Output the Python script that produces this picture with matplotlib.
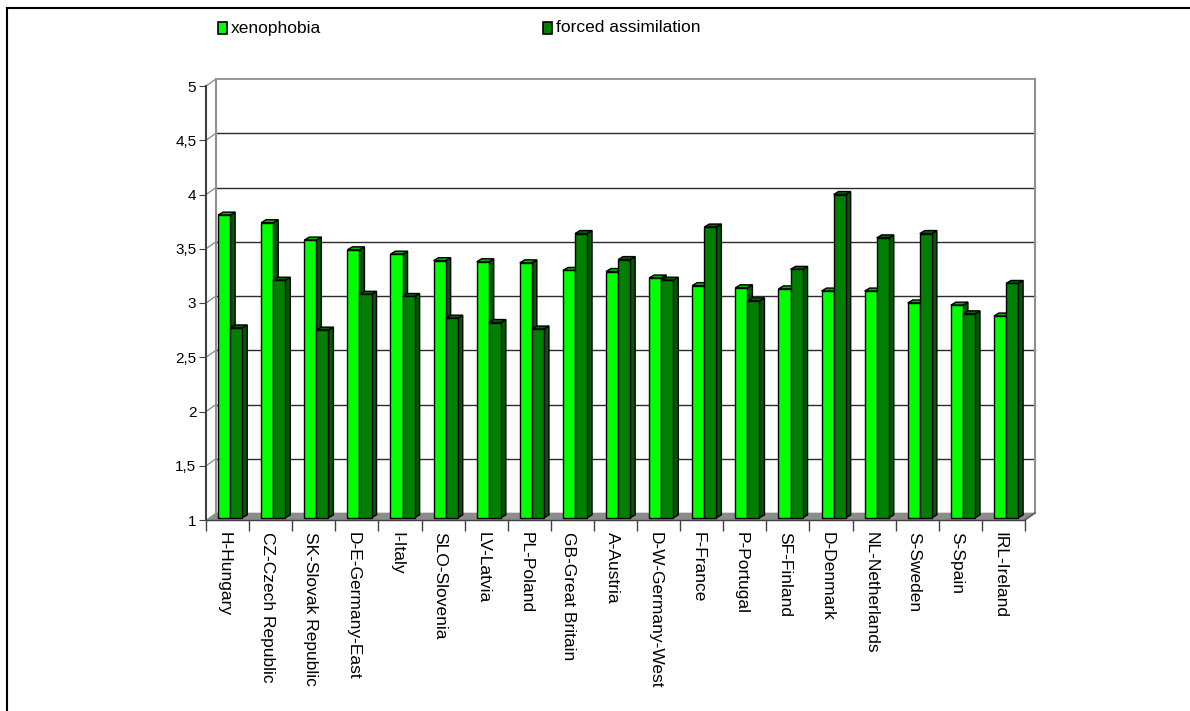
import matplotlib
matplotlib.use("Agg")
import matplotlib.pyplot as plt
from matplotlib.patches import Polygon, Rectangle
from matplotlib.lines import Line2D
import numpy as np

plt.rcParams['font.family'] = ['Liberation Sans', 'DejaVu Sans']

countries = ["H-Hungary", "CZ-Czech Republic", "SK-Slovak Republic", "D-E-Germany-East",
             "I-Italy", "SLO-Slovenia", "LV-Latvia", "PL-Poland", "GB-Great Britain",
             "A-Austria", "D-W-Germany-West", "F-France", "P-Portugal", "SF-Finland",
             "D-Denmark", "NL-Netherlands", "S-Sweden", "S-Spain", "IRL-Ireland"]
xenophobia = [3.81, 3.74, 3.58, 3.49, 3.45, 3.39, 3.38, 3.37, 3.30, 3.29,
              3.23, 3.16, 3.14, 3.13, 3.11, 3.11, 3.00, 2.98, 2.88]
assimilation = [2.77, 3.21, 2.75, 3.08, 3.06, 2.86, 2.82, 2.76, 3.64, 3.40,
                3.21, 3.70, 3.02, 3.31, 4.00, 3.60, 3.64, 2.90, 3.18]
series_names = ["xenophobia", "forced assimilation"]
yticks = [1, 1.5, 2, 2.5, 3, 3.5, 4, 4.5, 5]

light = "#00ff00"
light_top = "#00b400"
dark = "#008000"
dark_side = "#005a00"
dark_top = "#006400"

W, H = 1190, 711
fig = plt.figure(figsize=(W / 100, H / 100), dpi=100)
# front plane of the 3d box
ax = fig.add_axes([206 / W, 1 - 520 / H, 819 / W, 434 / H])
n = len(countries)
ax.set_xlim(-0.5, n - 0.5)
ax.set_ylim(1, 5)

px_x = 819 / n      # pixels per category
px_y = 434 / 4      # pixels per unit
WX, WY = 10 / px_x, 7 / px_y        # back wall offset
BX, BY = 5 / px_x, 3 / px_y         # bar depth
bw = 0.28

# back wall gridlines and edges
for v in yticks[1:]:
    col = "#909090" if v == 5 else "#2a2a2a"
    ax.add_line(Line2D([-0.5 + WX, n - 0.5 + WX], [v + WY, v + WY], color=col, lw=1.3 if v == 5 else 1, clip_on=False, zorder=1))
    ax.add_line(Line2D([-0.5, -0.5 + WX], [v, v + WY], color="#909090", lw=1, clip_on=False, zorder=1))
ax.add_line(Line2D([-0.5 + WX] * 2, [1 + WY, 5 + WY], color="#909090", lw=1.5, clip_on=False, zorder=1))
ax.add_line(Line2D([n - 0.5 + WX] * 2, [1 + WY, 5 + WY], color="#909090", lw=1.5, clip_on=False, zorder=1))

# floor
ax.add_patch(Polygon([(-0.5, 1), (n - 0.5, 1), (n - 0.5 + WX, 1 + WY), (-0.5 + WX, 1 + WY)],
                     closed=True, facecolor="#8c8c8c", edgecolor="#8c8c8c", lw=0.5, clip_on=False, zorder=2))
ax.add_line(Line2D([n - 0.5, n - 0.5 + WX], [1, 1 + WY], color="#505050", lw=1, clip_on=False, zorder=2))


def bar3d(x0, v, front, side, top, z):
    ax.add_patch(Polygon([(x0 + bw, 1.02), (x0 + bw + BX, 1.02 + BY), (x0 + bw + BX, v + BY), (x0 + bw, v)],
                         closed=True, facecolor=side, edgecolor="black", lw=1, clip_on=False, zorder=z))
    ax.add_patch(Polygon([(x0, v), (x0 + BX, v + BY), (x0 + bw + BX, v + BY), (x0 + bw, v)],
                         closed=True, facecolor=top, edgecolor="black", lw=1, clip_on=False, zorder=z))
    ax.bar(x0, v - 1.02, width=bw, bottom=1.02, align="edge", color=front, edgecolor="black", lw=1, zorder=z + 0.1)


for i in range(n):
    x0 = i - 0.22
    bar3d(x0, xenophobia[i], light, dark_side, light_top, 3 + 2 * i)
    bar3d(x0 + bw, assimilation[i], dark, dark_side, dark_top, 4 + 2 * i)

# axes styling
for s in ["top", "right"]:
    ax.spines[s].set_visible(False)
ax.spines["left"].set_color("#404040")
ax.spines["bottom"].set_color("#404040")
ax.spines["left"].set_linewidth(1.5)
ax.spines["bottom"].set_linewidth(1)
ax.patch.set_alpha(0)

ax.set_yticks(yticks)
ax.set_yticklabels([str(v).replace(".", ",").replace(",0", "") for v in yticks], fontsize=11)
ax.tick_params(axis="y", length=5, color="#404040", pad=2)

ax.set_xticks(np.arange(n + 1) - 0.5)
ax.set_xticklabels([])
ax.tick_params(axis="x", which="major", length=8, color="#404040", width=1)
ax.set_xticks(np.arange(n) - 0.08, minor=True)
ax.set_xticklabels(countries, minor=True, rotation=-90, fontsize=12.5, va="top", ha="center")
ax.tick_params(axis="x", which="minor", length=0, pad=9)

# legend
fig.add_artist(Rectangle((218 / W, 1 - 34 / H), 9 / W, 12 / H, transform=fig.transFigure,
                         facecolor=light, edgecolor="black", lw=1.2))
fig.text(231 / W, 1 - 28 / H, series_names[0], fontsize=12.5, va="center", ha="left")
fig.add_artist(Rectangle((543 / W, 1 - 34 / H), 9 / W, 12 / H, transform=fig.transFigure,
                         facecolor=dark, edgecolor="black", lw=1.2))
fig.text(556 / W, 1 - 28 / H, series_names[1], fontsize=12.5, va="center", ha="left")

# outer frame (top and left only visible)
fig.add_artist(Line2D([7 / W, 1], [1 - 8 / H, 1 - 8 / H], transform=fig.transFigure, color="black", lw=1.5))
fig.add_artist(Line2D([7 / W, 7 / W], [0, 1 - 8 / H], transform=fig.transFigure, color="black", lw=1.5))

fig.savefig("out.png", dpi=100)
